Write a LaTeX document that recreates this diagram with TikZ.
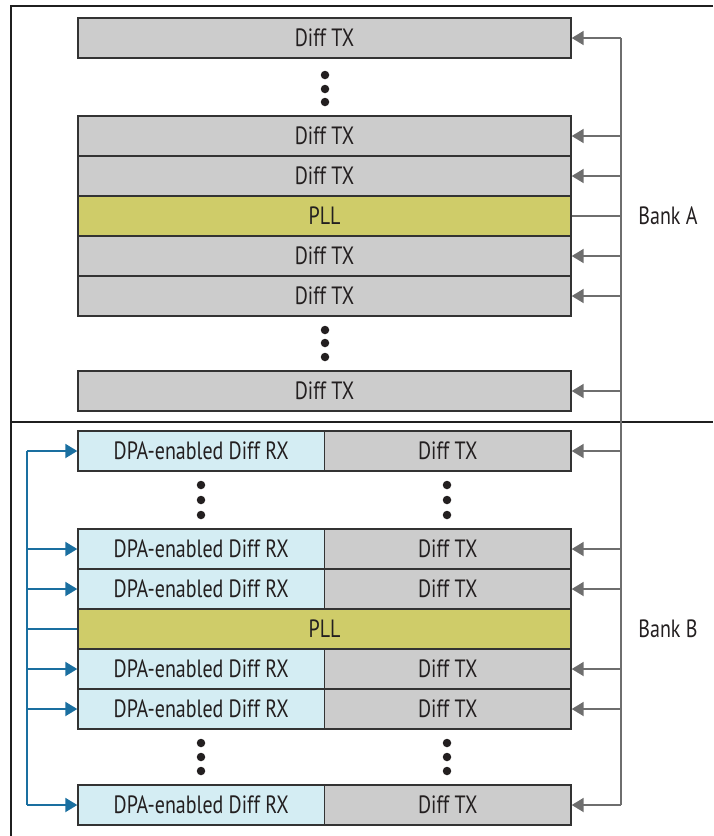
\documentclass[tikz,border=0pt]{standalone}
\usepackage{fontspec}
\setmainfont[FakeStretch=0.8]{PT Sans}
\usetikzlibrary{arrows.meta}
\definecolor{boxgray}{HTML}{CCCCCC}
\definecolor{pllcol}{HTML}{CFCC69}
\definecolor{rxcol}{HTML}{D4EDF3}
\definecolor{bordercol}{HTML}{333333}
\definecolor{busgray}{HTML}{6E6E6E}
\definecolor{busblue}{HTML}{1A6FA0}
\definecolor{txtcol}{HTML}{231F20}
\tikzset{
  cell/.style={draw=bordercol, line width=1.4pt, minimum height=40pt, inner sep=0pt,
    font=\fontsize{25}{28}\selectfont, text=txtcol},
  fullcell/.style={cell, minimum width=493pt},
  halfcell/.style={cell, minimum width=246.5pt},
  tx/.style={fill=boxgray},
  pll/.style={fill=pllcol},
  rx/.style={fill=rxcol},
  dotmark/.style={circle, fill=txtcol, inner sep=0pt, minimum size=8.5pt},
  gline/.style={draw=busgray, line width=2pt},
  garrow/.style={gline, -{Triangle[length=12pt,width=14pt]}},
  bline/.style={draw=busblue, line width=2pt},
  barrow/.style={bline, -{Triangle[length=12pt,width=14pt]}},
  frame/.style={draw=black!88, line width=1.5pt},
  banklabel/.style={font=\fontsize{25}{28}\selectfont, text=txtcol}
}
\begin{document}
\begin{tikzpicture}[x=1pt, y=-1pt]
\useasboundingbox (0,0) rectangle (713,836);
% frame
\draw[frame] (713,6) -- (11,6) -- (11,836);
\draw[frame] (11,422) -- (713,422);
% Bank A
\node[fullcell, tx] (a1) at (324.5,38) {Diff TX};
\node[fullcell, tx] (a2) at (324.5,136) {Diff TX};
\node[fullcell, tx] (a3) at (324.5,176) {Diff TX};
\node[fullcell, pll] (apll) at (324.5,216) {PLL};
\node[fullcell, tx] (a4) at (324.5,256) {Diff TX};
\node[fullcell, tx] (a5) at (324.5,296) {Diff TX};
\node[fullcell, tx] (a6) at (324.5,391) {Diff TX};
\foreach \yy [count=\i] in {75,89,102,330,343,357}
  \node[dotmark] (ad\i) at (325,\yy) {};
% Bank B
\foreach \nm/\yy in {1/451,2/549,3/589,4/669,5/709,6/805}{
  \node[halfcell, rx] (b\nm l) at (201.25,\yy) {DPA-enabled Diff RX};
  \node[halfcell, tx] (b\nm r) at (447.75,\yy) {Diff TX};
}
\node[fullcell, pll] (bpll) at (324.5,629) {PLL};
\foreach \yy [count=\i] in {485,500,515,743,757,771}{
  \node[dotmark] (bdl\i) at (201,\yy) {};
  \node[dotmark] (bdr\i) at (447,\yy) {};
}
% labels
\node[banklabel] (labA) at (668,216) {Bank A};
\node[banklabel] (labB) at (668,629) {Bank B};
% right gray bus
\coordinate (rbus) at (621,0);
\draw[gline] (rbus |- a1.east) -- (rbus |- b6r.east);
\foreach \n in {a1,a2,a3,a4,a5,a6,b1r,b2r,b3r,b4r,b5r,b6r}
  \draw[garrow] (rbus |- \n.east) -- (\n.east);
\draw[gline] (rbus |- apll.east) -- (apll.east);
% left blue bus
\coordinate (lbus) at (27,0);
\draw[bline] (lbus |- b1l.west) -- (lbus |- b6l.west);
\foreach \n in {b1l,b2l,b3l,b4l,b5l,b6l}
  \draw[barrow] (lbus |- \n.west) -- (\n.west);
\draw[bline] (lbus |- bpll.west) -- (bpll.west);
\end{tikzpicture}
\end{document}
